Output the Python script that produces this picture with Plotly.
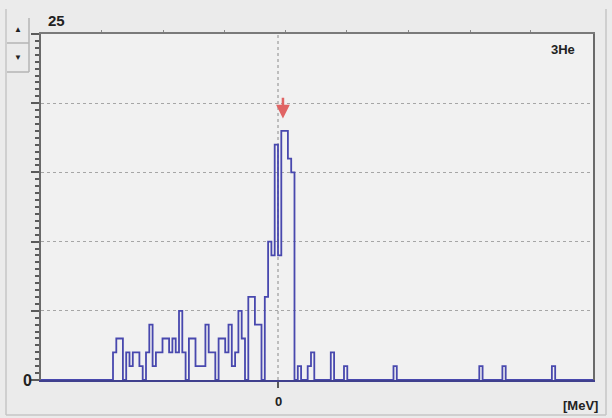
import numpy as np
import plotly.graph_objects as go

# Energy histogram (counts per 0.05 MeV bin) for the 3He channel
bin_width = 0.05                      # MeV
core_first_bin = -51                  # index of first bin in core_counts
core_counts = [
    0, 2, 3, 3, 0, 2, 1, 2, 2, 1, 0, 2, 4, 1, 2, 2, 3, 3, 2, 3,
    2, 5, 2, 0, 3, 3, 1, 1, 1, 4, 2, 2, 0, 3, 3, 2, 4, 1, 2, 5,
    3, 0, 6, 6, 4, 4, 0, 6, 10, 9, 17, 9, 18, 18, 16, 15, 0,
]
tail_bins = [6, 9, 10, 16, 20, 35, 61, 68, 83]
tail_counts = [1, 1, 2, 2, 1, 1, 1, 1, 1]

x_range = [-3.591, 4.773]
y_range = [0, 25]
y_grid = [0, 5, 10, 15, 20, 25]
top_ticks = [-2.667, -1.742, -0.818, 0.114, 1.045, 1.970, 2.924, 3.833]

# assemble full bin array across the visible energy range
k_lo = int(np.floor(x_range[0] / bin_width)) - 1
k_hi = int(np.ceil(x_range[1] / bin_width)) + 1
kk = np.arange(k_lo, k_hi + 1)
counts = np.zeros(len(kk))
for i, c in enumerate(core_counts):
    counts[core_first_bin + i - k_lo] = c
for b, c in zip(tail_bins, tail_counts):
    counts[b - k_lo] = c
edges = kk * bin_width
# step outline: repeat final value so the last bin closes
xs = np.append(edges, edges[-1] + bin_width)
ys = np.append(counts, counts[-1])

peak_i = int(np.argmax(counts))
peak_x = edges[peak_i] + bin_width / 2
peak_y = counts[peak_i]

W, H = 612, 418
ML, MR, MT, MB = 41, 19, 34, 38
PW, PH = W - ML - MR, H - MT - MB


def px(x):
    return (x - ML) / PW


def py(y):
    return 1 - (y - MT) / PH


fig = go.Figure()
fig.add_trace(go.Scatter(
    x=xs, y=ys, mode="lines", line=dict(shape="hv", color="#4848ae", width=1.8),
    hoverinfo="skip", showlegend=False,
))
# carrier for the top frame axis
fig.add_trace(go.Scatter(x=[None], y=[None], xaxis="x2", showlegend=False))

axis_col = "#5a5a5a"
fig.update_layout(
    width=W, height=H,
    margin=dict(l=ML, r=MR, t=MT, b=MB, pad=0),
    paper_bgcolor="#ebebeb",
    plot_bgcolor="#f1f1f1",
    showlegend=False,
    xaxis=dict(
        range=x_range, showgrid=False, zeroline=False,
        tickvals=[0], ticks="outside", ticklen=6, tickwidth=1.5, tickcolor=axis_col,
        showticklabels=False, showline=True, linecolor="#40408e", linewidth=2,
    ),
    xaxis2=dict(
        range=x_range, overlaying="x", side="top", showgrid=False, zeroline=False,
        tickvals=top_ticks, ticks="outside", ticklen=2, tickcolor="#888",
        showticklabels=False, showline=True, linecolor="#7a7a7a", linewidth=2,
    ),
    yaxis=dict(
        range=y_range, tickvals=y_grid, ticks="outside", ticklen=8, tickwidth=2,
        tickcolor=axis_col, showticklabels=False, showline=True, mirror=True,
        linecolor="#6a6a6a", linewidth=2, zeroline=False,
        showgrid=True, gridcolor="#a6a6a6", griddash="dot", gridwidth=1,
        minor=dict(dtick=0.5, tick0=0, ticks="outside", ticklen=4, tickwidth=1.5,
                   tickcolor=axis_col, showgrid=False),
    ),
)

# zero-energy marker line
fig.add_shape(type="line", xref="x", yref="paper", x0=0, x1=0, y0=0, y1=1,
              line=dict(color="#8a8a8a", width=1, dash="dot"), layer="below")

# arrow marking the peak
fig.add_annotation(
    x=peak_x, y=peak_y + 0.9, ax=peak_x, ay=peak_y + 2.5,
    xref="x", yref="y", axref="x", ayref="y",
    showarrow=True, arrowhead=2, arrowsize=1.1, arrowwidth=2.5,
    arrowcolor="#e06464", text="",
)

# panel frame and scroll buttons
frame = dict(color="#c6c6c6", width=1.5)
fig.add_shape(type="line", xref="paper", yref="paper",
              x0=px(6), x1=px(6), y0=py(9), y1=py(415), line=frame)
fig.add_shape(type="line", xref="paper", yref="paper",
              x0=px(6), x1=px(606), y0=py(415), y1=py(415), line=frame)
fig.add_shape(type="line", xref="paper", yref="paper",
              x0=px(606), x1=px(606), y0=py(9), y1=py(415), line=frame)
btn = dict(color="#b4b4b4", width=1.5)
fig.add_shape(type="line", xref="paper", yref="paper",
              x0=px(29), x1=px(29), y0=py(18), y1=py(72), line=btn)
fig.add_shape(type="line", xref="paper", yref="paper",
              x0=px(7), x1=px(29), y0=py(43), y1=py(43), line=btn)
fig.add_shape(type="line", xref="paper", yref="paper",
              x0=px(7), x1=px(29), y0=py(72), y1=py(72), line=btn)

txt = dict(family="Liberation Sans, Arial, sans-serif", color="#222")


def label(x, y, text, size, xref="paper"):
    fig.add_annotation(x=x, y=y, xref=xref, yref="paper", text=text,
                       showarrow=False, xanchor="center", yanchor="middle",
                       font=dict(size=size, **txt))


label(px(18), py(30), "▲", 8)
label(px(18), py(57), "▼", 8)
label(px(56), py(20), "<b>25</b>", 15)
label(px(563), py(50), "<b>3He</b>", 13)
label(px(27), py(380), "<b>0</b>", 16)
label(0, py(401), "<b>0</b>", 13, xref="x")
label(px(580), py(405), "<b>[MeV]</b>", 13)

fig.write_html("out.html")
